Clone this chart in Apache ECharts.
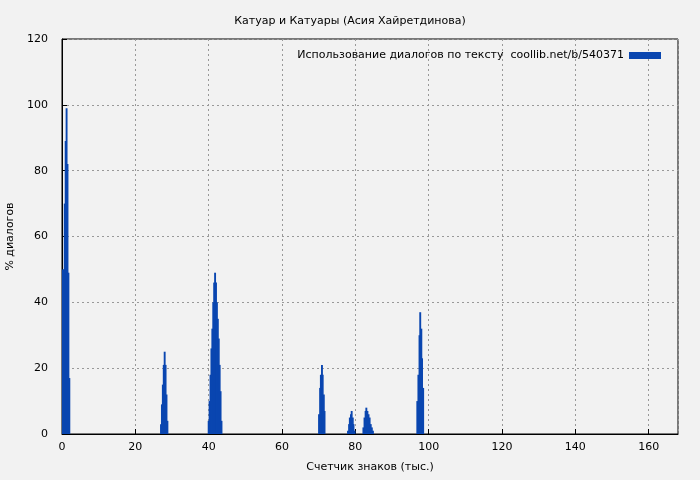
<!DOCTYPE html>
<html><head><meta charset="utf-8">
<script src="https://cdn.jsdelivr.net/npm/echarts@6/dist/echarts.min.js"></script>
<style>html,body{margin:0;background:#f2f2f2}#c{width:700px;height:480px}</style>
</head><body><div id="c"></div>
<script>
// thousands of characters
let xs = [0.25,0.5,0.75,1,1.25,1.5,1.75,2,
  27,27.25,27.5,27.75,28,28.25,28.5,28.75,
  40,40.25,40.5,40.75,41,41.25,41.5,41.75,42,42.25,42.5,42.75,43,43.25,43.5,
  70.1,70.4,70.6,70.9,71.1,71.4,71.6,
  78,78.3,78.5,78.8,79,79.3,79.5,79.8,
  82.2,82.5,82.8,83,83.3,83.6,83.9,84.2,84.5,84.8,
  96.9,97.2,97.5,97.7,98,98.2,98.5]
// percent of dialogues
let ys = [50,50,70,89,99,82,49,17,
  3,9,15,21,25,21,12,4,
  4,10,18,26,32,40,46,49,46,40,35,29,21,13,4,
  6,14,18,21,18,12,7,
  1,3,5,6,7,5,3,1,
  2,5,7,8,7,6,5,3,2,1,
  10,18,30,37,32,23,14]

let font = 'DejaVu Sans'
let myChart = echarts.init(document.getElementById('c'))
let option = {
  backgroundColor: '#f2f2f2',
  animation: false,
  textStyle: {fontFamily: font},
  title: {text: 'Катуар и Катуары (Асия Хайретдинова)', left: 'center', top: 11,
    textStyle: {fontSize: 11, fontWeight: 'normal', color: '#000', fontFamily: font}},
  legend: {right: 34, top: 45, itemWidth: 32, itemHeight: 7, itemGap: 6, align: 'right',
    textStyle: {fontSize: 11, color: '#000', fontFamily: font}, icon: 'rect',
    data: ['Использование диалогов по тексту  coollib.net/b/540371']},
  grid: {left: 62, right: 22, top: 39, bottom: 46, containLabel: false, outerBoundsMode: 'none',
    show: true, borderColor: '#000', borderWidth: 1},
  xAxis: {
    type: 'value', min: 0, max: 168, interval: 20,
    name: 'Счетчик знаков (тыс.)', nameLocation: 'middle', nameGap: 28,
    nameTextStyle: {fontSize: 11, color: '#000'},
    axisLine: {lineStyle: {color: '#000'}},
    axisTick: {inside: true, length: 5, lineStyle: {color: '#000'}},
    axisLabel: {fontSize: 11, color: '#000', showMaxLabel: false},
    splitLine: {lineStyle: {color: '#999', type: [2, 3]}}
  },
  yAxis: {
    type: 'value', min: 0, max: 120, interval: 20,
    name: '% диалогов', nameLocation: 'middle', nameGap: 46,
    nameTextStyle: {fontSize: 11, color: '#000'},
    axisLine: {show: true, lineStyle: {color: '#000'}},
    axisTick: {show: true, inside: true, length: 5, lineStyle: {color: '#000'}},
    axisLabel: {fontSize: 11, color: '#000', margin: 14},
    splitLine: {lineStyle: {color: '#999', type: [2, 3]}}
  },
  series: [{
    name: 'Использование диалогов по тексту  coollib.net/b/540371',
    type: 'bar', barWidth: 1.9, barGap: 0,
    itemStyle: {color: '#0a46b0'},
    data: xs.map((x, i) => [x, ys[i]])
  }]
}
myChart.setOption(option)
</script></body></html>
